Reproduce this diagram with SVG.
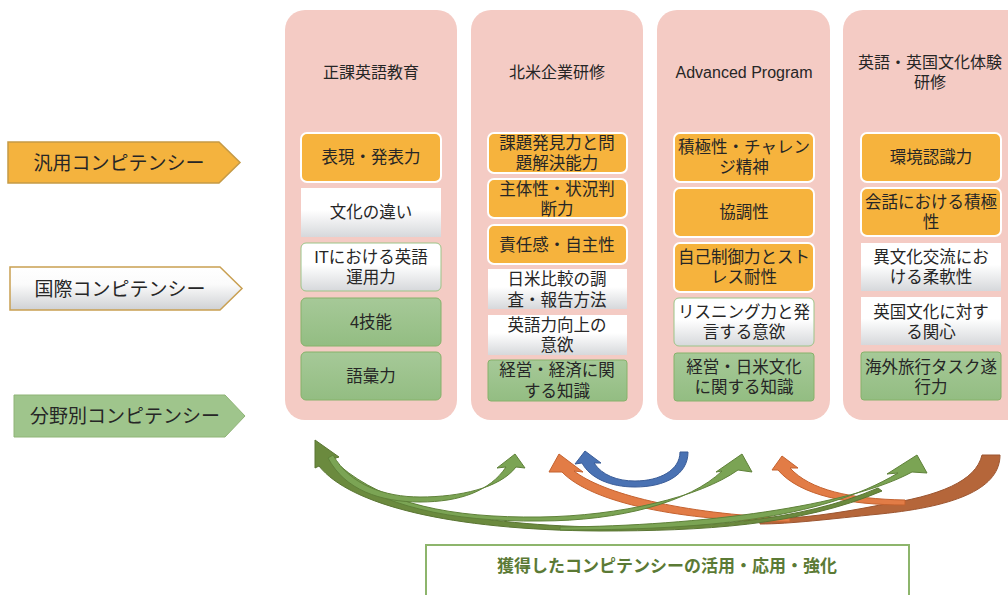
<svg xmlns="http://www.w3.org/2000/svg" width="1008" height="595" viewBox="0 0 1008 595">
<defs>
<linearGradient id="gw" x1="0" y1="0" x2="0" y2="1">
<stop offset="0" stop-color="#ffffff"/><stop offset="0.45" stop-color="#ffffff"/><stop offset="1" stop-color="#d6d8db"/>
</linearGradient>
<linearGradient id="gg" x1="0" y1="0" x2="0" y2="1">
<stop offset="0" stop-color="#a6c998"/><stop offset="1" stop-color="#93bd82"/>
</linearGradient>
<linearGradient id="glw" x1="0" y1="0" x2="0" y2="1">
<stop offset="0" stop-color="#ffffff"/><stop offset="0.4" stop-color="#fbfbfb"/><stop offset="1" stop-color="#cfd1d4"/>
</linearGradient>
<style>
text{font-family:"Liberation Sans","Noto Sans CJK JP",sans-serif;fill:#262626;text-anchor:middle;dominant-baseline:central}
.col{fill:#f4cbc4}
.ttl{font-size:16px}
.bx{font-size:16.5px}
.lbl{font-size:19px}
.or{fill:#f6b33d;stroke:#ffffff;stroke-width:2}
.wh{fill:url(#gw)}
.whb{fill:url(#gw);stroke:#9cc487;stroke-width:1}
.gr{fill:url(#gg);stroke:#86b26a;stroke-width:1}
.agr{fill:#7ba454;stroke:#5f8139;stroke-width:1}
.aol{fill:#6b8a3e;stroke:#5a7533;stroke-width:1}
.aor{fill:#e27c46;stroke:#c4622f;stroke-width:1}
.abr{fill:#b5663a;stroke:#9c5530;stroke-width:1}
.abl{fill:#4a72b3;stroke:#3a5c98;stroke-width:1}
</style>
</defs>

<g id="label-hanyou">
<path d="M8 142 H219 L240 162.5 L219 183 H8 Z" fill="#f4b33e" stroke="#c59a46" stroke-width="1.5"/>
<text class="lbl" x="119" y="163">汎用コンピテンシー</text>
</g>
<g id="label-kokusai">
<path d="M10 267 H220 L242 288.5 L220 310 H10 Z" fill="url(#glw)" stroke="#c9a052" stroke-width="1.5"/>
<text class="lbl" x="120" y="289">国際コンピテンシー</text>
</g>
<g id="label-bunya">
<path d="M14 395 H225 L245 416 L225 437 H14 Z" fill="#9fc58c" stroke="#8fb476" stroke-width="1"/>
<text class="lbl" x="125" y="416">分野別コンピテンシー</text>
</g>

<g id="col-seika">
<rect class="col" x="285" y="10" width="172" height="410" rx="20"/>
<text class="ttl" x="371" y="72">正課英語教育</text>
<rect class="or" x="301" y="133" width="140" height="49" rx="6"/>
<text class="bx" x="371" y="157">表現・発表力</text>
<rect class="wh" x="301" y="188" width="140" height="49"/>
<text class="bx" x="371" y="212">文化の違い</text>
<rect class="whb" x="301" y="243" width="140" height="48" rx="5"/>
<text class="bx" x="371" y="257"><tspan x="371">ITにおける英語</tspan><tspan x="371" dy="20">運用力</tspan></text>
<rect class="gr" x="301" y="298" width="140" height="48" rx="5"/>
<text class="bx" x="371" y="322">4技能</text>
<rect class="gr" x="301" y="352" width="140" height="48" rx="5"/>
<text class="bx" x="371" y="376">語彙力</text>
</g>

<g id="col-hokubei">
<rect class="col" x="471" y="10" width="172" height="410" rx="20"/>
<text class="ttl" x="557" y="72">北米企業研修</text>
<rect class="or" x="488" y="133" width="139" height="40" rx="6"/>
<text class="bx" x="557" y="143"><tspan x="557">課題発見力と問</tspan><tspan x="557" dy="20">題解決能力</tspan></text>
<rect class="or" x="488" y="179" width="139" height="39" rx="6"/>
<text class="bx" x="557" y="189"><tspan x="557">主体性・状況判</tspan><tspan x="557" dy="20">断力</tspan></text>
<rect class="or" x="488" y="225" width="139" height="39" rx="6"/>
<text class="bx" x="557" y="245">責任感・自主性</text>
<rect class="wh" x="488" y="269" width="139" height="40"/>
<text class="bx" x="557" y="279"><tspan x="557">日米比較の調</tspan><tspan x="557" dy="21">査・報告方法</tspan></text>
<rect class="wh" x="488" y="315" width="139" height="40"/>
<text class="bx" x="557" y="325"><tspan x="557">英語力向上の</tspan><tspan x="557" dy="20">意欲</tspan></text>
<rect class="gr" x="488" y="360" width="139" height="41" rx="3"/>
<text class="bx" x="557" y="370"><tspan x="557">経営・経済に関</tspan><tspan x="557" dy="21">する知識</tspan></text>
</g>

<g id="col-advanced">
<rect class="col" x="657" y="10" width="173" height="410" rx="20"/>
<text class="ttl" x="744" y="72">Advanced Program</text>
<rect class="or" x="674" y="133" width="140" height="49" rx="6"/>
<text class="bx" x="744" y="147"><tspan x="744">積極性・チャレン</tspan><tspan x="744" dy="20">ジ精神</tspan></text>
<rect class="or" x="674" y="188" width="140" height="49" rx="6"/>
<text class="bx" x="744" y="212">協調性</text>
<rect class="or" x="674" y="243" width="140" height="49" rx="6"/>
<text class="bx" x="744" y="257"><tspan x="744">自己制御力とスト</tspan><tspan x="744" dy="20">レス耐性</tspan></text>
<rect class="whb" x="674" y="298" width="140" height="48" rx="5"/>
<text class="bx" x="744" y="312"><tspan x="744">リスニング力と発</tspan><tspan x="744" dy="20">言する意欲</tspan></text>
<rect class="gr" x="674" y="353" width="140" height="48" rx="3"/>
<text class="bx" x="744" y="367"><tspan x="744">経営・日米文化</tspan><tspan x="744" dy="20">に関する知識</tspan></text>
</g>

<g id="col-eikoku">
<rect class="col" x="843" y="10" width="185" height="410" rx="20"/>
<text class="ttl" x="930" y="62"><tspan x="930">英語・英国文化体験</tspan><tspan x="930" dy="20">研修</tspan></text>
<rect class="or" x="861" y="133" width="140" height="49" rx="6"/>
<text class="bx" x="931" y="157">環境認識力</text>
<rect class="or" x="861" y="188" width="140" height="48" rx="6"/>
<text class="bx" x="931" y="202"><tspan x="931">会話における積極</tspan><tspan x="931" dy="20">性</tspan></text>
<rect class="wh" x="861" y="243" width="140" height="48"/>
<text class="bx" x="931" y="257"><tspan x="931">異文化交流にお</tspan><tspan x="931" dy="20">ける柔軟性</tspan></text>
<rect class="wh" x="861" y="297" width="140" height="48"/>
<text class="bx" x="931" y="312"><tspan x="931">英国文化に対す</tspan><tspan x="931" dy="20">る関心</tspan></text>
<rect class="gr" x="861" y="352" width="140" height="48" rx="3"/>
<text class="bx" x="931" y="367"><tspan x="931">海外旅行タスク遂</tspan><tspan x="931" dy="20">行力</tspan></text>
</g>

<g id="connectors">
<path class="abr" d="M982 455 L1000 455 C1000 487 960 506 880 514 C830 519 790 524 760 524 L760 519 C800 519 840 513 880 505 C940 496 976 481 982 455 Z"/>
<path class="aor" d="M559 454 L583 472 L574 471 C602 493 680 514 790 518 L790 522 C680 521 592 503 562 472 L549 472 Z"/>
<path class="aor" d="M782 456 L798 468 L790 468 C810 490 850 499 905 500 L905 505 C850 505 800 496 778 470 L772 470 Z"/>
<path class="aol" d="M315 440 L339 457 L333 459 C365 500 460 525 600 527 C700 528 800 522 878 488 L882 491 C800 526 700 531 600 531 C450 530 350 505 319 466 L315 468 Z"/>
<path class="agr" d="M917 455 L927 473 L912 472 C850 506 700 526 560 527 L560 530 C700 530 820 520 898 473 L887 474 Z"/>
<path class="agr" d="M742 454 L752 472 L738 470 C700 497 620 516 540 517 C450 518 385 504 340 466 L336 470 C380 506 450 522 540 521 C620 521 690 502 722 471 L716 472 Z"/>
<path class="agr" d="M515 454 L525 468 L516 467 C500 488 460 497 420 497 C385 497 350 485 333 455 L328 458 C345 490 380 502 420 502 C460 502 490 491 506 467 L497 468 Z"/>
<path class="abl" d="M688 452 C688 475 665 487 635 487 C610 487 590 478 582 463 L575 464 L585 451 L601 463 L594 463 C602 475 617 481 635 481 C660 481 680 470 680 452 Z"/>
</g>

<g id="bottom-box">
<rect x="426" y="545" width="483" height="62" fill="#ffffff" stroke="#8db56c" stroke-width="2"/>
<text x="667" y="566" style="font-size:17px;font-weight:bold;fill:#5b7a35">獲得したコンピテンシーの活用・応用・強化</text>
</g>
</svg>
